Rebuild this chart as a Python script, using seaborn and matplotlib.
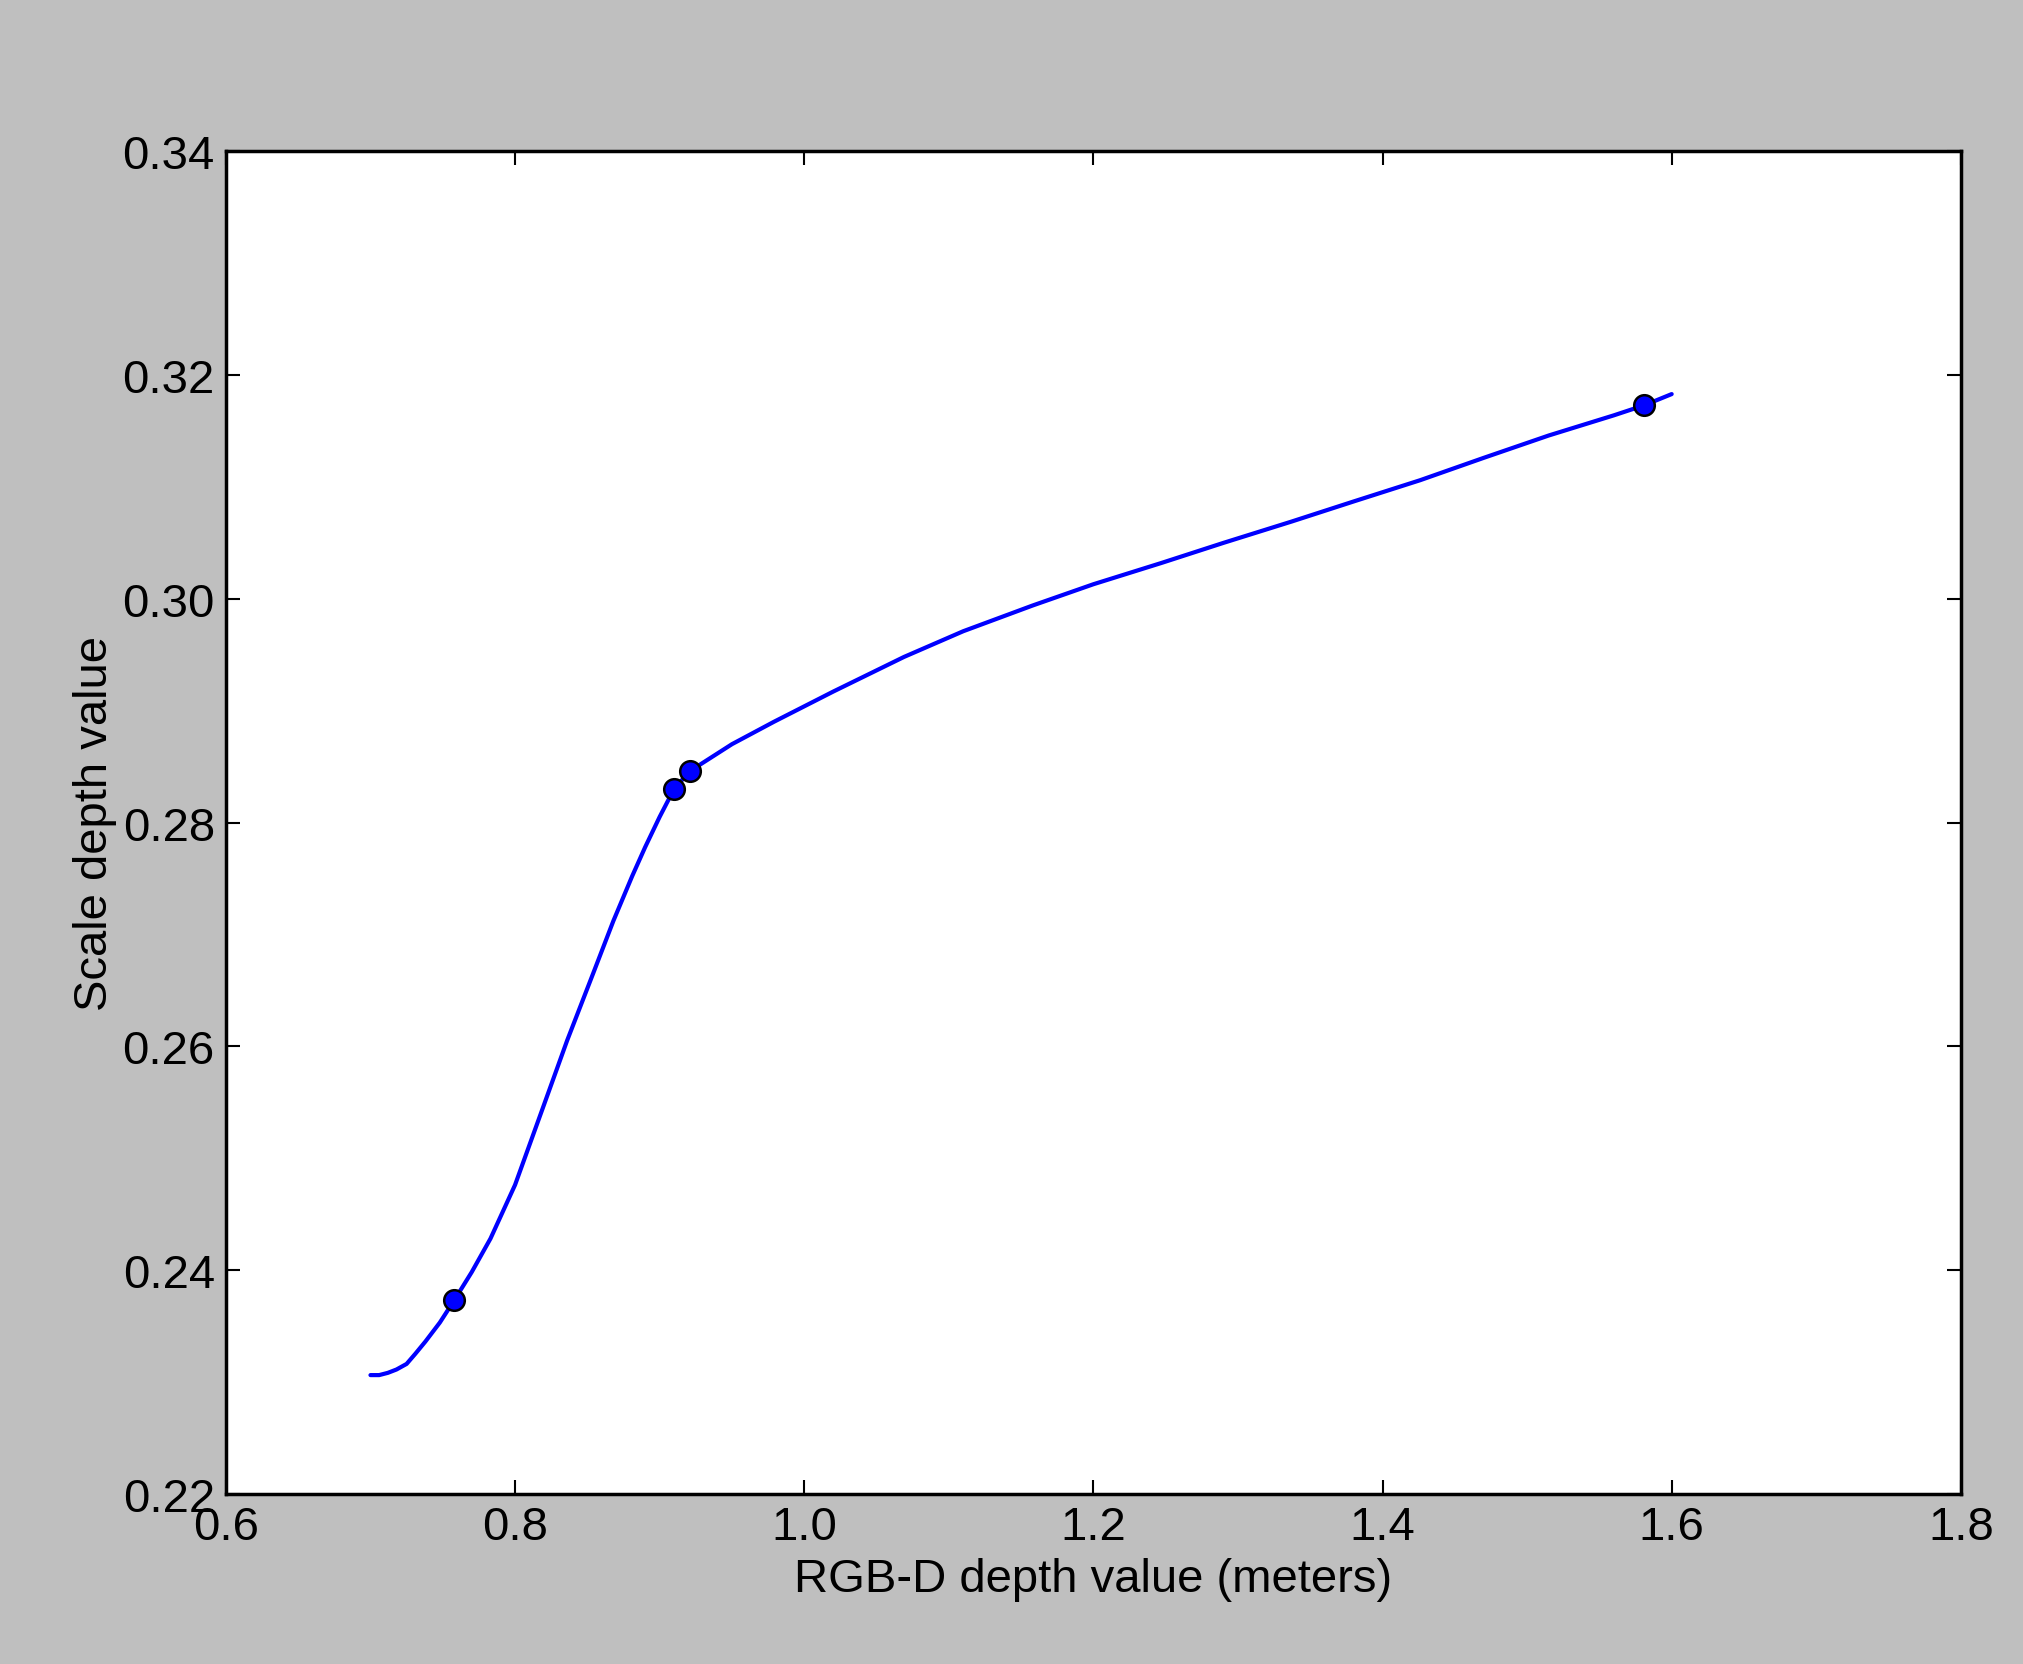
import matplotlib
matplotlib.use("Agg")
import matplotlib.pyplot as plt
import seaborn as sns

# measured calibration points
point_x = [0.758, 0.910, 0.921, 1.581]
point_y = [0.2373, 0.2830, 0.2846, 0.3173]

# fitted curve
curve_x = [0.700, 0.706, 0.712, 0.718, 0.725, 0.731, 0.738, 0.748, 0.758, 0.770, 0.783, 0.800,
           0.819, 0.836, 0.854, 0.868, 0.881, 0.890, 0.900, 0.910, 0.921, 0.950, 0.979, 1.020,
           1.069, 1.110, 1.158, 1.200, 1.247, 1.290, 1.337, 1.380, 1.426, 1.470, 1.515, 1.560,
           1.581, 1.600]
curve_y = [0.2306, 0.2306, 0.2308, 0.2311, 0.2316, 0.2325, 0.2336, 0.2353, 0.2373, 0.2398, 0.2428,
           0.2476, 0.2544, 0.2605, 0.2665, 0.2712, 0.2752, 0.2778, 0.2805, 0.2830, 0.2846, 0.2870,
           0.2890, 0.2917, 0.2948, 0.2971, 0.2994, 0.3013, 0.3032, 0.3050, 0.3069, 0.3087, 0.3106,
           0.3126, 0.3146, 0.3164, 0.3173, 0.3183]

sns.set_style("ticks")
plt.rcParams['font.family'] = ['Liberation Sans', 'DejaVu Sans']
plt.rcParams['xtick.direction'] = 'in'
plt.rcParams['ytick.direction'] = 'in'
plt.rcParams['text.color'] = 'black'
plt.rcParams['axes.labelcolor'] = 'black'
plt.rcParams['xtick.labelcolor'] = 'black'
plt.rcParams['ytick.labelcolor'] = 'black'

fig = plt.figure(figsize=(20.24, 16.65), dpi=100, facecolor='#bfbfbf')
ax = fig.add_axes([0.1116, 0.1023, 0.8572, 0.8062])
ax.set_facecolor('white')

sns.lineplot(x=curve_x, y=curve_y, ax=ax, color='blue', linewidth=3, sort=False)
sns.scatterplot(x=point_x, y=point_y, ax=ax, color='blue', edgecolor='black',
                linewidth=1.8, s=220, zorder=3)

ax.set_xlim(0.6, 1.8)
ax.set_ylim(0.22, 0.34)
ax.set_xticks([0.6, 0.8, 1.0, 1.2, 1.4, 1.6, 1.8])
ax.set_xticklabels(['0.6', '0.8', '1.0', '1.2', '1.4', '1.6', '1.8'])
ax.set_yticks([0.22, 0.24, 0.26, 0.28, 0.30, 0.32, 0.34])
ax.set_yticklabels(['0.22', '0.24', '0.26', '0.28', '0.30', '0.32', '0.34'])
ax.tick_params(which='both', top=True, right=True, length=10, width=1.5,
               labelsize=34, pad=8, color='black')
for s in ax.spines.values():
    s.set_linewidth(2.5)
    s.set_color('black')

ax.set_xlabel('RGB-D depth value (meters)', fontsize=34, labelpad=6)
ax.set_ylabel('Scale depth value', fontsize=34, labelpad=4)

fig.savefig('out.png', dpi=100, facecolor=fig.get_facecolor())
